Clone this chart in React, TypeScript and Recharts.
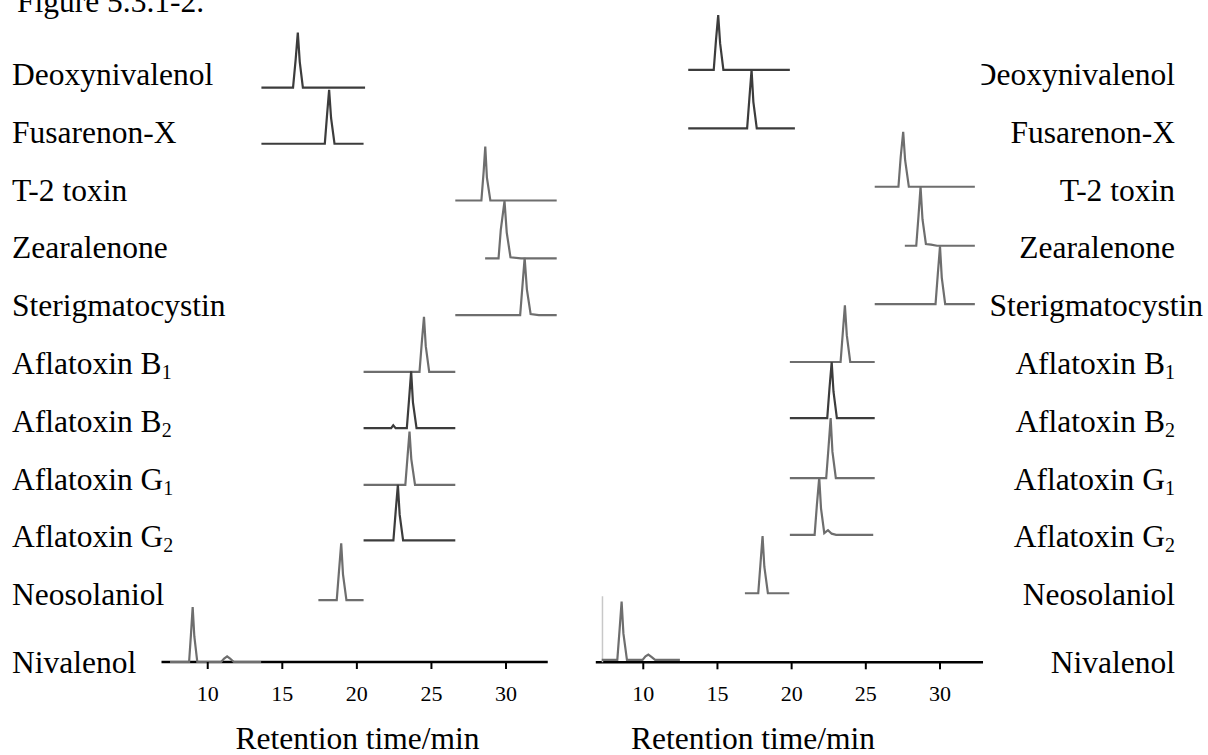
import React from 'react';
import { LineChart, Line, XAxis, YAxis, ReferenceLine } from 'recharts';

// compound rows, top to bottom
const compounds = [
  'Deoxynivalenol',
  'Fusarenon-X',
  'T-2 toxin',
  'Zearalenone',
  'Sterigmatocystin',
  'Aflatoxin B',
  'Aflatoxin B',
  'Aflatoxin G',
  'Aflatoxin G',
  'Neosolaniol',
  'Nivalenol',
];
const subscripts = ['', '', '', '', '', '1', '2', '1', '2', '', ''];

const timeTicks = [10, 15, 20, 25, 30];

// baseline level of each trace (row units, 0 = time axis)
const leftLevels = [10.02, 9.04, 8.05, 7.04, 6.05, 5.06, 4.08, 3.09, 2.12, 1.08, 0];
const rightLevels = [10.04, 9.05, 8.06, 7.06, 6.07, 5.09, 4.14, 3.12, 2.16, 1.17, 0.04];

// [retention time (min), signal above baseline (row units)]
const leftTraces: [number, number][][] = [
  [[13.6, 0], [15.72, 0], [15.9, 0.5], [16.04, 0.96], [16.17, 0.45], [16.38, 0], [20.55, 0]],
  [[13.6, 0], [17.85, 0], [18.0, 0.5], [18.14, 0.94], [18.27, 0.45], [18.5, 0], [20.45, 0]],
  [[26.6, 0], [28.35, 0], [28.5, 0.5], [28.61, 0.94], [28.72, 0.4], [28.95, 0], [33.4, 0]],
  [[28.6, 0], [29.5, 0], [29.65, 0.5], [29.9, 1.0], [30.05, 0.45], [30.3, 0.02], [31.0, 0], [33.4, 0]],
  [[26.6, 0], [30.95, 0], [31.1, 0.5], [31.25, 1.0], [31.4, 0.45], [31.65, 0.02], [32.2, 0], [33.4, 0]],
  [[20.45, 0], [24.2, 0], [24.35, 0.5], [24.5, 0.96], [24.62, 0.45], [24.85, 0], [26.6, 0]],
  [[20.45, 0], [22.3, 0], [22.44, 0.05], [22.6, 0], [23.35, 0], [23.5, 0.5], [23.64, 0.99], [23.76, 0.45], [24.0, 0], [26.6, 0]],
  [[20.45, 0], [23.25, 0], [23.4, 0.5], [23.53, 0.93], [23.65, 0.45], [23.9, 0], [26.6, 0]],
  [[20.45, 0], [22.45, 0], [22.6, 0.5], [22.75, 0.97], [22.87, 0.45], [23.1, 0], [26.6, 0]],
  [[17.42, 0], [18.65, 0], [18.8, 0.5], [18.95, 0.99], [19.07, 0.45], [19.3, 0], [20.45, 0]],
  [[7.47, 0], [8.75, 0], [8.88, 0.5], [8.99, 0.96], [9.1, 0.45], [9.3, 0], [10.9, 0], [11.1, 0.06], [11.3, 0.1], [11.5, 0.06], [11.75, 0], [13.58, 0]],
];

const rightTraces: [number, number][][] = [
  [[13.03, 0], [14.75, 0], [14.9, 0.5], [15.05, 0.93], [15.18, 0.45], [15.4, 0], [19.88, 0]],
  [[13.03, 0], [17.0, 0], [17.15, 0.5], [17.3, 0.99], [17.42, 0.45], [17.65, 0], [20.22, 0]],
  [[25.6, 0], [27.2, 0], [27.35, 0.5], [27.52, 0.93], [27.65, 0.45], [27.9, 0], [32.35, 0]],
  [[27.63, 0], [28.4, 0], [28.55, 0.5], [28.69, 1.0], [28.82, 0.45], [29.05, 0.03], [29.4, 0.02], [29.8, 0], [32.35, 0]],
  [[25.6, 0], [29.7, 0], [29.85, 0.5], [30.0, 0.98], [30.12, 0.45], [30.35, 0], [32.35, 0]],
  [[19.88, 0], [23.3, 0], [23.45, 0.5], [23.59, 0.96], [23.72, 0.45], [23.95, 0], [25.6, 0]],
  [[19.88, 0], [22.4, 0], [22.55, 0.5], [22.7, 0.95], [22.82, 0.45], [23.05, 0], [25.6, 0]],
  [[19.88, 0], [22.33, 0], [22.48, 0.5], [22.63, 1.02], [22.75, 0.45], [22.98, 0], [25.6, 0]],
  [[19.88, 0], [21.55, 0], [21.7, 0.5], [21.86, 0.97], [21.98, 0.45], [22.2, 0.03], [22.45, 0.08], [22.7, 0.02], [23.0, 0], [25.5, 0]],
  [[16.85, 0], [17.75, 0], [17.9, 0.5], [18.04, 0.97], [18.16, 0.45], [18.4, 0], [19.84, 0]],
  [[7.2, 0], [8.25, 0], [8.4, 0.5], [8.54, 0.99], [8.66, 0.45], [8.9, 0], [9.95, 0], [10.15, 0.06], [10.34, 0.09], [10.55, 0.05], [10.8, 0], [12.47, 0]],
];

// faint frame edge at the start of the right Nivalenol trace
const rightEdge: [number, number][] = [[7.25, 0], [7.25, 1.12]];

// traces whose baselines look noisy / darker in the scan
const leftNoisy = [true, true, false, false, false, false, true, false, true, false, false];
const rightNoisy = [true, true, false, false, false, false, true, false, false, false, false];

const FONT = '"Liberation Serif", "Times New Roman", serif';

const toRows = (pts: [number, number][], level: number) =>
  pts.map(([t, h]) => ({ t, v: level + h }));

const TimeTick = ({ x, y, payload }: any) => (
  <text
    x={x}
    y={y + 30}
    textAnchor="middle"
    style={{ fontFamily: FONT, fontSize: 22 }}
    fill="#000"
  >
    {payload.value}
  </text>
);

function Panel({ traces, levels, noisy, margin, domain, axisEnd, xHeight, edge }: any) {
  return (
    <LineChart width={1208} height={755} margin={margin}>
      <XAxis
        dataKey="t"
        type="number"
        domain={domain}
        ticks={timeTicks}
        tick={<TimeTick />}
        tickSize={7}
        tickLine={{ stroke: '#000', strokeWidth: 2 }}
        axisLine={false}
        height={xHeight}
        allowDataOverflow
      />
      <YAxis type="number" domain={[0, 11]} hide />
      <ReferenceLine
        segment={[{ x: domain[0], y: 0 }, { x: axisEnd, y: 0 }]}
        stroke="#000"
        strokeWidth={2.5}
      />
      {edge && (
        <Line
          data={toRows(edge, 0)}
          dataKey="v"
          type="linear"
          dot={false}
          stroke="#c8c8c8"
          strokeWidth={1.5}
          isAnimationActive={false}
        />
      )}
      {traces.map((pts: [number, number][], i: number) => (
        <Line
          key={i}
          data={toRows(pts, levels[i])}
          dataKey="v"
          type="linear"
          dot={false}
          stroke={noisy[i] ? '#3c3c3c' : '#6e6e6e'}
          strokeWidth={2.2}
          isAnimationActive={false}
        />
      ))}
    </LineChart>
  );
}

const labelY = (i: number) => (i < 10 ? 85 + 57.8 * i : 672.5);

function Label({ i, x, anchor }: any) {
  return (
    <text x={x} y={labelY(i)} textAnchor={anchor} fontSize={31.5} fontFamily={FONT} fill="#000">
      {compounds[i]}
      {subscripts[i] && (
        <tspan fontSize={20} dy={5}>
          {subscripts[i]}
        </tspan>
      )}
    </text>
  );
}

export default function App() {
  return (
    <div style={{ position: 'absolute', left: 0, top: 0, width: 1208, height: 755, background: '#fff' }}>
      <div style={{ position: 'absolute', left: 0, top: 0 }}>
        <Panel
          traces={leftTraces}
          levels={leftLevels}
          noisy={leftNoisy}
          margin={{ top: 31.4, right: 649.8, bottom: 0, left: 161.5 }}
          domain={[6.9, 33.5]}
          axisEnd={32.8}
          xHeight={93}
        />
      </div>
      <div style={{ position: 'absolute', left: 0, top: 0 }}>
        <Panel
          traces={rightTraces}
          levels={rightLevels}
          noisy={rightNoisy}
          margin={{ top: 13.3, right: 223.5, bottom: 0, left: 595.8 }}
          domain={[6.8, 33]}
          axisEnd={32.9}
          xHeight={92.7}
          edge={rightEdge}
        />
      </div>
      <svg
        width={1208}
        height={755}
        style={{ position: 'absolute', left: 0, top: 0, pointerEvents: 'none' }}
      >
        <text x={17} y={12} fontSize={31.5} fontFamily={FONT} fill="#000">
          Figure 5.3.1-2.
        </text>
        {compounds.map((_, i) => (
          <Label key={'l' + i} i={i} x={12} anchor="start" />
        ))}
        {compounds.map((_, i) => (
          <Label key={'r' + i} i={i} x={i === 4 ? 1203 : 1175} anchor="end" />
        ))}
        {/* the scan cuts off the left edge of the right-hand "D" */}
        <rect x={955} y={55} width={26.5} height={40} fill="#fff" />
        <text x={357.5} y={749} textAnchor="middle" fontSize={31.5} fontFamily={FONT} fill="#000">
          Retention time/min
        </text>
        <text x={753} y={749} textAnchor="middle" fontSize={31.5} fontFamily={FONT} fill="#000">
          Retention time/min
        </text>
      </svg>
    </div>
  );
}
